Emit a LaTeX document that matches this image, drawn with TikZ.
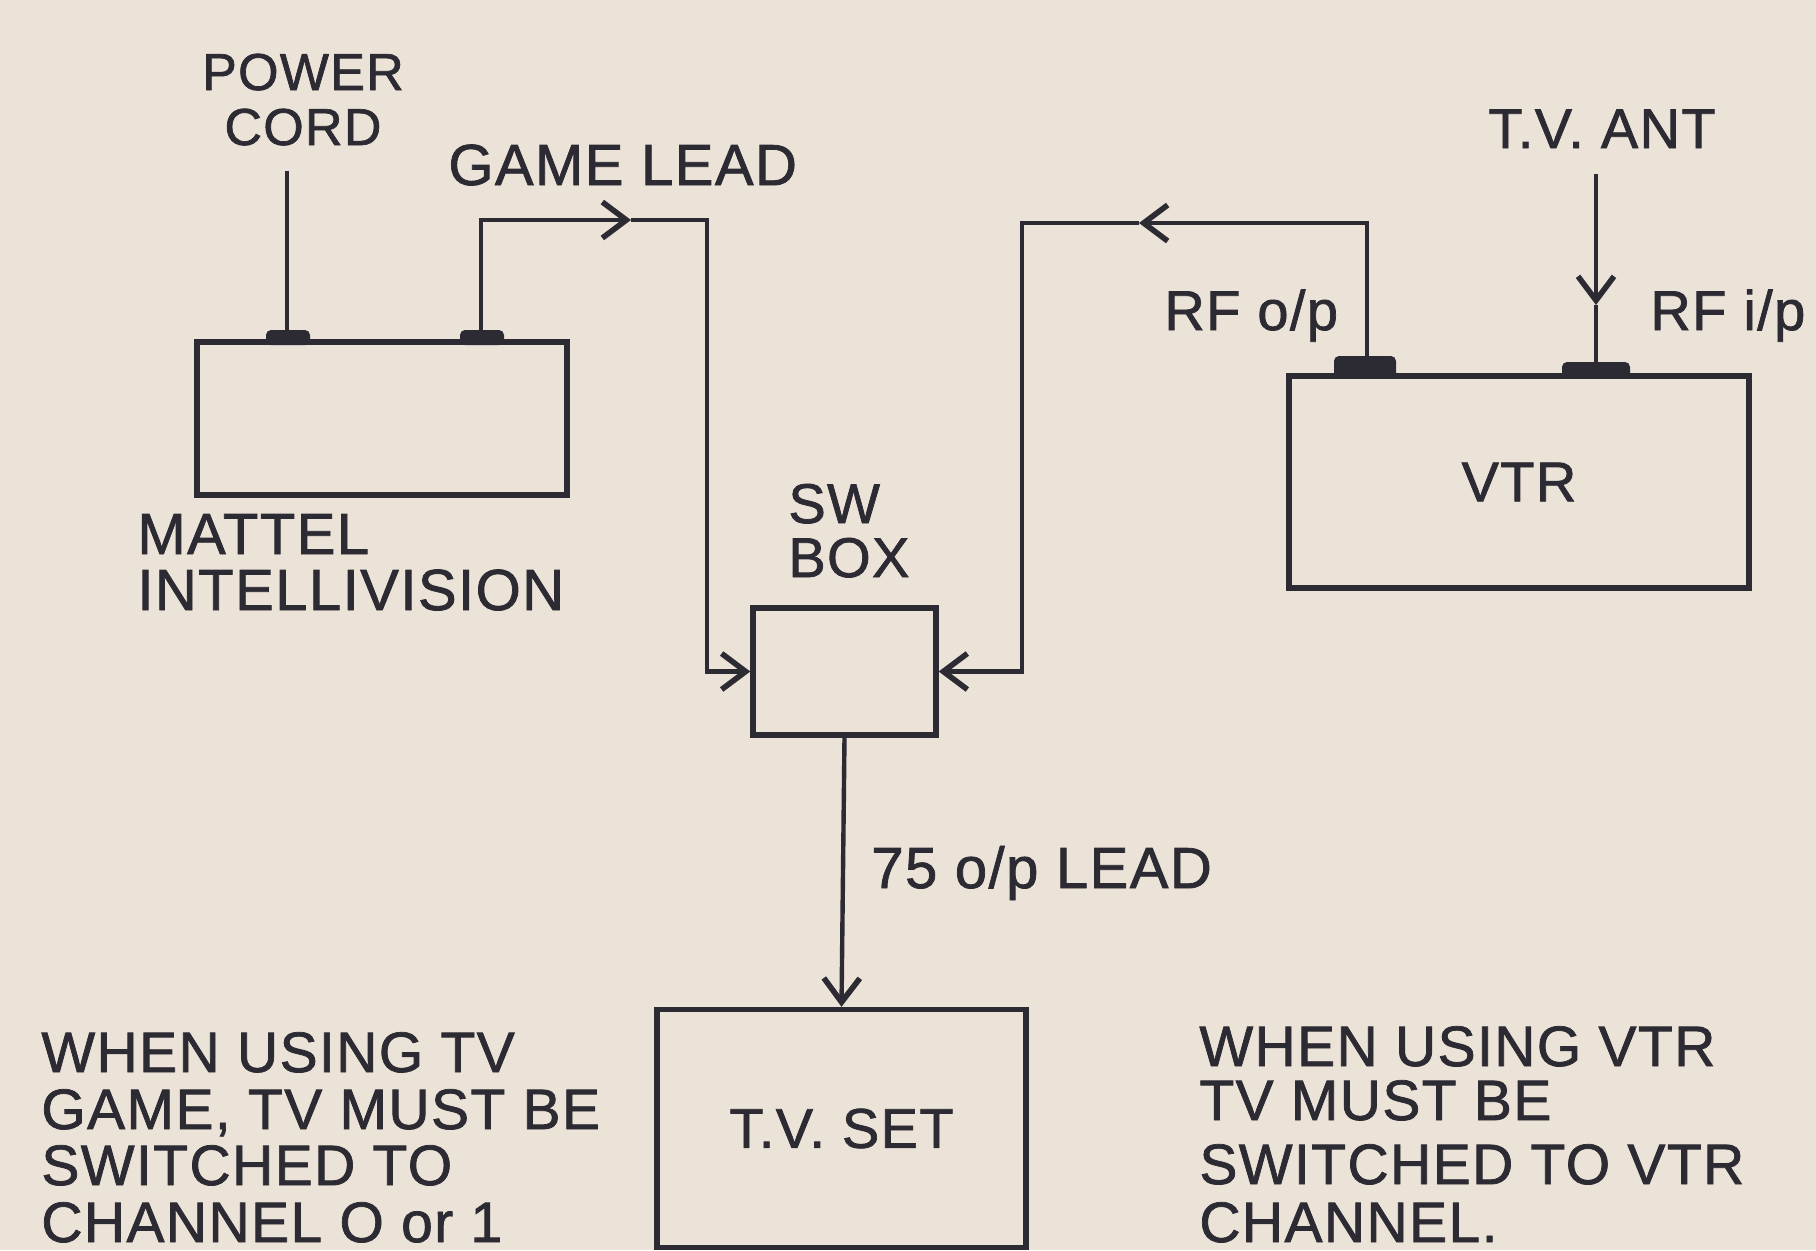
\documentclass[tikz,border=0pt]{standalone}
\usepackage{fontspec}
\setmainfont{Liberation Sans}[LetterSpace=2.5,UprightFeatures={FakeBold=1.3}]
\usetikzlibrary{arrows.meta}
\definecolor{paper}{HTML}{ECE3D8}
\definecolor{ink}{HTML}{2C2A32}
\newcommand{\fsz}[1]{\fontsize{#1}{#1}\selectfont}
\begin{document}
\begin{tikzpicture}[x=0.5pt,y=-0.5pt,
  box/.style={draw=ink,line width=2.7pt,inner sep=0pt,text=ink,font=\fsz{28}},
  wire/.style={draw=ink,line width=2.2pt},
  tip/.style={-{Straight Barb[length=12pt,width=18pt,line width=2.8pt]}},
  lbl/.style={text=ink,inner sep=0pt,anchor=base west,font=\fsz{28}},
  clbl/.style={lbl,anchor=base},
  note/.style={lbl,font=\fsz{28.5}},
  blob/.style={fill=ink,rounded corners=2.5pt}]
\fill[paper] (0,0) rectangle (1816,1250);
\useasboundingbox (0,0) rectangle (1816,1250);

% boxes
\node[box,minimum width=185pt,minimum height=76.5pt] (mattel) at (382,418.5) {};
\node[box,minimum width=91.5pt,minimum height=63.5pt] (sw) at (844.5,671.5) {};
\node[box,minimum width=230pt,minimum height=106pt] (vtr) at (1519,482) {VTR};
\node[box,minimum width=184.5pt,minimum height=119pt] (tv) at (841.5,1128.5) {T.V. SET};

% ports and free ends
\coordinate (pw) at (287,342);
\coordinate (gp) at (481,342);
\coordinate (rfo) at (1367,376);
\coordinate (rfi) at (1596,376);
\coordinate (pwend) at (287,171);
\coordinate (ant) at (1596,174);
\coordinate (ga) at (631,220);
\coordinate (gc) at (707,220);
\coordinate (va) at (1139,223);
\coordinate (vc) at (1022,223);
\coordinate (aa) at (1596,305);

% connector blobs
\fill[blob] (266,345) rectangle (310,330);
\fill[blob] (460,345) rectangle (504,330);
\fill[blob] (1334,378) rectangle (1396,356);
\fill[blob] (1562,378) rectangle (1630,362);

% connectors
\draw[wire] (pw) -- (pwend);
\draw[wire,tip] (gp) |- (ga);
\draw[wire,tip] (ga) -- (gc) |- (sw.west);
\draw[wire,tip] (rfo) |- (va);
\draw[wire,tip] (va) -- (vc) |- (sw.east);
\draw[wire,tip] (ant) -- (aa);
\draw[wire] (aa) -- (rfi);
\draw[wire,tip] (sw.south) -- (tv.north);

% labels
\node[clbl,font=\fsz{26}] (power) at (303,90) {POWER};
\node[clbl,font=\fsz{26}] (cord) at (303,145) {CORD};
\node[lbl,font=\fsz{29}] (glead) at (448,185) {GAME LEAD};
\node[lbl,font=\fsz{29}] (mat1) at (137,554) {MATTEL};
\node[lbl,font=\fsz{29}] (mat2) at (137,610) {INTELLIVISION};
\node[lbl] (sw1) at (788,523) {SW};
\node[lbl] (sw2) at (788,577) {BOX};
\node[clbl] (tvant) at (1602,148) {T.V. ANT};
\node[lbl] (rfol) at (1164,330) {RF o/p};
\node[lbl] (rfil) at (1650,330) {RF i/p};
\node[lbl,font=\fsz{29}] (lead) at (871,888) {75 o/p LEAD};

\node[note] (l1) at (41,1072) {WHEN USING TV};
\node[note] (l2) at (41,1129) {GAME, TV MUST BE};
\node[note] (l3) at (41,1185) {SWITCHED TO};
\node[note] (l4) at (41,1242) {CHANNEL O or 1};

\node[note] (r1) at (1199,1066) {WHEN USING VTR};
\node[note] (r2) at (1199,1120) {TV MUST BE};
\node[note] (r3) at (1199,1184) {SWITCHED TO VTR};
\node[note] (r4) at (1199,1242) {CHANNEL.};
\end{tikzpicture}
\end{document}
